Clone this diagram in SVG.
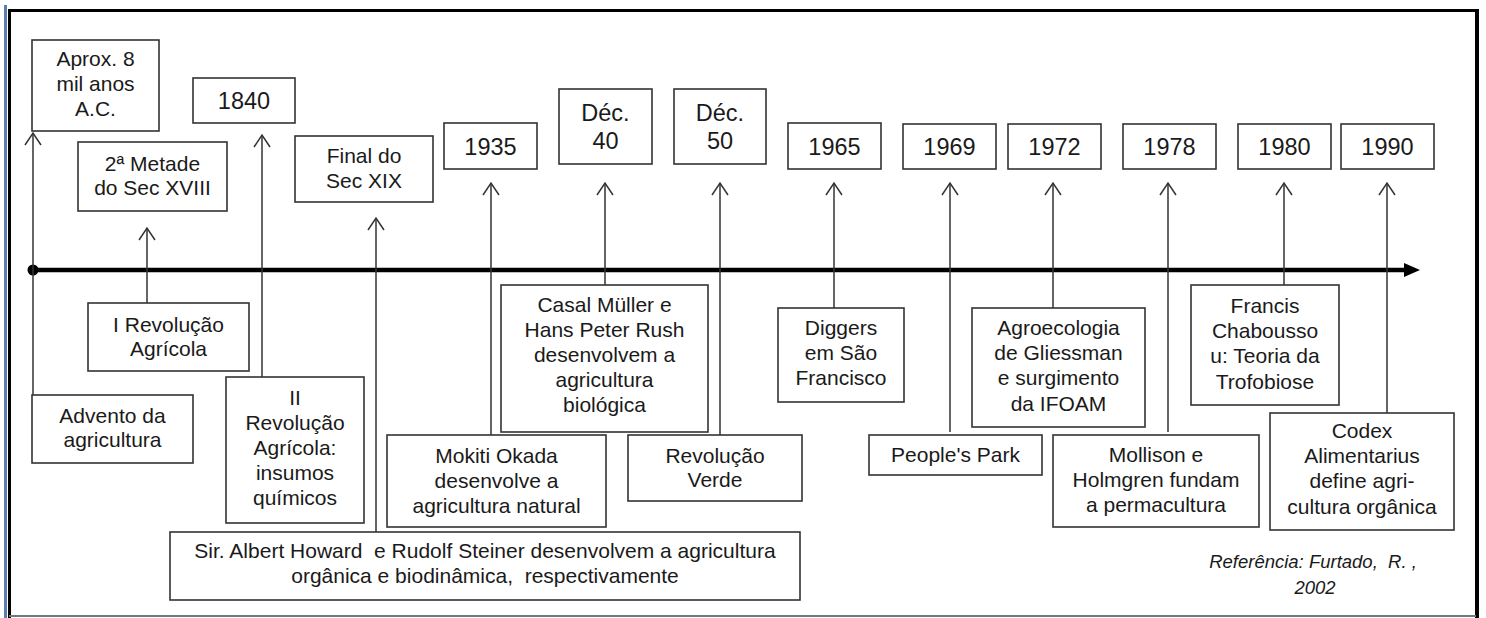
<svg xmlns="http://www.w3.org/2000/svg" width="1486" height="618" viewBox="0 0 1486 618">
<style>
.box{fill:#fff;stroke:#333;stroke-width:1.6}
.t{font-family:"Liberation Sans",Arial,sans-serif;font-size:21px;fill:#1a1a1a;text-anchor:middle}
.y{font-family:"Liberation Sans",Arial,sans-serif;font-size:23.5px;fill:#1a1a1a;text-anchor:middle}
.ref{font-family:"Liberation Sans",Arial,sans-serif;font-size:18.5px;font-style:italic;fill:#1a1a1a;text-anchor:middle}
.c{stroke:#333;stroke-width:1.5;fill:none;marker-end:url(#open)}
.p{stroke:#333;stroke-width:1.5;fill:none}
</style>
<defs>
<marker id="open" markerUnits="userSpaceOnUse" orient="auto" overflow="visible" refX="0" refY="0" markerWidth="20" markerHeight="20">
<path d="M-12,-8 L0,0 L-12,8" fill="none" stroke="#333" stroke-width="1.5"/>
</marker>
</defs>
<rect width="1486" height="618" fill="#fff"/>
<g id="frame">
<rect x="4" y="5" width="3" height="613" fill="#5b7db0"/>
<line x1="9.5" y1="9" x2="9.5" y2="618" stroke="#000" stroke-width="3"/>
<line x1="8" y1="10.5" x2="1479" y2="10.5" stroke="#000" stroke-width="3"/>
<line x1="1477" y1="9" x2="1477" y2="618" stroke="#000" stroke-width="4"/>
<line x1="9" y1="616" x2="1476" y2="616" stroke="#777" stroke-width="2"/>
</g>
<g id="axis">
<line x1="33" y1="270" x2="1408" y2="270" stroke="#000" stroke-width="4.5"/>
<path d="M1404,263 L1420,270 L1404,277 Z" fill="#000"/>
<circle cx="33" cy="270" r="5.5" fill="#000"/>
</g>
<g id="connectors">
<line class="c" x1="33" y1="395" x2="33" y2="133"/>
<line class="c" x1="147" y1="303" x2="147" y2="228"/>
<line class="c" x1="262" y1="377" x2="262" y2="135"/>
<line class="c" x1="376" y1="532" x2="376" y2="218"/>
<line class="c" x1="491" y1="435" x2="491" y2="183"/>
<line class="c" x1="605" y1="285" x2="605" y2="183"/>
<line class="c" x1="720" y1="435" x2="720" y2="183"/>
<line class="c" x1="834" y1="308" x2="834" y2="183"/>
<line class="c" x1="950" y1="432" x2="950" y2="183"/>
<line class="c" x1="1053" y1="308" x2="1053" y2="183"/>
<line class="c" x1="1168" y1="432" x2="1168" y2="183"/>
<line class="c" x1="1284" y1="285" x2="1284" y2="183"/>
<line class="c" x1="1387" y1="413" x2="1387" y2="183"/>
</g>
<g id="n-aprox"><rect class="box" x="32" y="40" width="127" height="91"/><text class="t" x="95.5" y="66">Aprox. 8</text><text class="t" x="95.5" y="91">mil anos</text><text class="t" x="95.5" y="116">A.C.</text></g>
<g id="n-metade"><rect class="box" x="78" y="142" width="149" height="69"/><text class="t" x="152.5" y="171">2ª Metade</text><text class="t" x="152.5" y="195">do Sec XVIII</text></g>
<g id="n-1840"><rect class="box" x="193" y="78" width="102" height="45"/><text class="y" x="244" y="109">1840</text></g>
<g id="n-final"><rect class="box" x="295" y="136" width="138" height="66"/><text class="t" x="364" y="163">Final do</text><text class="t" x="364" y="188">Sec XIX</text></g>
<g id="n-1935"><rect class="box" x="444" y="123" width="93" height="46"/><text class="y" x="490.5" y="155">1935</text></g>
<g id="n-dec40"><rect class="box" x="559" y="89" width="93" height="75"/><text class="y" x="605.5" y="121">Déc.</text><text class="y" x="605.5" y="149">40</text></g>
<g id="n-dec50"><rect class="box" x="674" y="89" width="92" height="75"/><text class="y" x="720" y="121">Déc.</text><text class="y" x="720" y="149">50</text></g>
<g id="n-1965"><rect class="box" x="788" y="123" width="93" height="46"/><text class="y" x="834.5" y="155">1965</text></g>
<g id="n-1969"><rect class="box" x="903" y="124" width="93" height="45"/><text class="y" x="949.5" y="155">1969</text></g>
<g id="n-1972"><rect class="box" x="1008" y="124" width="93" height="45"/><text class="y" x="1054.5" y="155">1972</text></g>
<g id="n-1978"><rect class="box" x="1123" y="124" width="93" height="45"/><text class="y" x="1169.5" y="155">1978</text></g>
<g id="n-1980"><rect class="box" x="1238" y="124" width="93" height="45"/><text class="y" x="1284.5" y="155">1980</text></g>
<g id="n-1990"><rect class="box" x="1341" y="124" width="93" height="45"/><text class="y" x="1387.5" y="155">1990</text></g>
<g id="n-irev"><rect class="box" x="88" y="303" width="161" height="68"/><text class="t" x="168.5" y="332">I Revolução</text><text class="t" x="168.5" y="356">Agrícola</text></g>
<g id="n-advento"><rect class="box" x="32" y="395" width="161" height="68"/><text class="t" x="112.5" y="423">Advento da</text><text class="t" x="112.5" y="447">agricultura</text></g>
<g id="n-iirev"><rect class="box" x="226" y="377" width="138" height="146"/><text class="t" x="295" y="405">II</text><text class="t" x="295" y="430">Revolução</text><text class="t" x="295" y="455">Agrícola:</text><text class="t" x="295" y="480">insumos</text><text class="t" x="295" y="505">químicos</text></g>
<g id="n-howard"><rect class="box" x="170" y="532" width="630" height="68"/><text class="t" x="485" y="558" xml:space="preserve">Sir. Albert Howard  e Rudolf Steiner desenvolvem a agricultura</text><text class="t" x="485" y="583" xml:space="preserve">orgânica e biodinâmica,  respectivamente</text></g>
<g id="n-okada"><rect class="box" x="387" y="435" width="219" height="92"/><text class="t" x="496.5" y="463">Mokiti Okada</text><text class="t" x="496.5" y="488">desenvolve a</text><text class="t" x="496.5" y="513">agricultura natural</text></g>
<g id="n-muller"><rect class="box" x="501" y="285" width="207" height="147"/><text class="t" x="604.5" y="312">Casal Müller e</text><text class="t" x="604.5" y="337">Hans Peter Rush</text><text class="t" x="604.5" y="362">desenvolvem a</text><text class="t" x="604.5" y="387">agricultura</text><text class="t" x="604.5" y="412">biológica</text></g>
<g id="n-verde"><rect class="box" x="628" y="435" width="174" height="66"/><text class="t" x="715" y="463">Revolução</text><text class="t" x="715" y="487">Verde</text></g>
<g id="n-diggers"><rect class="box" x="778" y="308" width="126" height="94"/><text class="t" x="841" y="335">Diggers</text><text class="t" x="841" y="360">em São</text><text class="t" x="841" y="385">Francisco</text></g>
<g id="n-people"><rect class="box" x="869" y="435" width="173" height="40"/><text class="t" x="955.5" y="462">People's Park</text></g>
<g id="n-agro"><rect class="box" x="972" y="308" width="173" height="119"/><text class="t" x="1058.5" y="335">Agroecologia</text><text class="t" x="1058.5" y="360">de Gliessman</text><text class="t" x="1058.5" y="385">e surgimento</text><text class="t" x="1058.5" y="411">da IFOAM</text></g>
<g id="n-mollison"><rect class="box" x="1053" y="435" width="206" height="92"/><text class="t" x="1156" y="462">Mollison e</text><text class="t" x="1156" y="487">Holmgren fundam</text><text class="t" x="1156" y="512">a permacultura</text></g>
<g id="n-francis"><rect class="box" x="1191" y="285" width="148" height="120"/><text class="t" x="1265" y="313">Francis</text><text class="t" x="1265" y="338">Chabousso</text><text class="t" x="1265" y="363">u: Teoria da</text><text class="t" x="1265" y="389">Trofobiose</text></g>
<g id="n-codex"><rect class="box" x="1270" y="413" width="184" height="117"/><text class="t" x="1362" y="438">Codex</text><text class="t" x="1362" y="463">Alimentarius</text><text class="t" x="1362" y="488">define agri-</text><text class="t" x="1362" y="514">cultura orgânica</text></g>
<g id="ref"><text class="ref" x="1313" y="568" xml:space="preserve">Referência: Furtado,  R. ,</text><text class="ref" x="1315" y="594">2002</text></g>
</svg>
